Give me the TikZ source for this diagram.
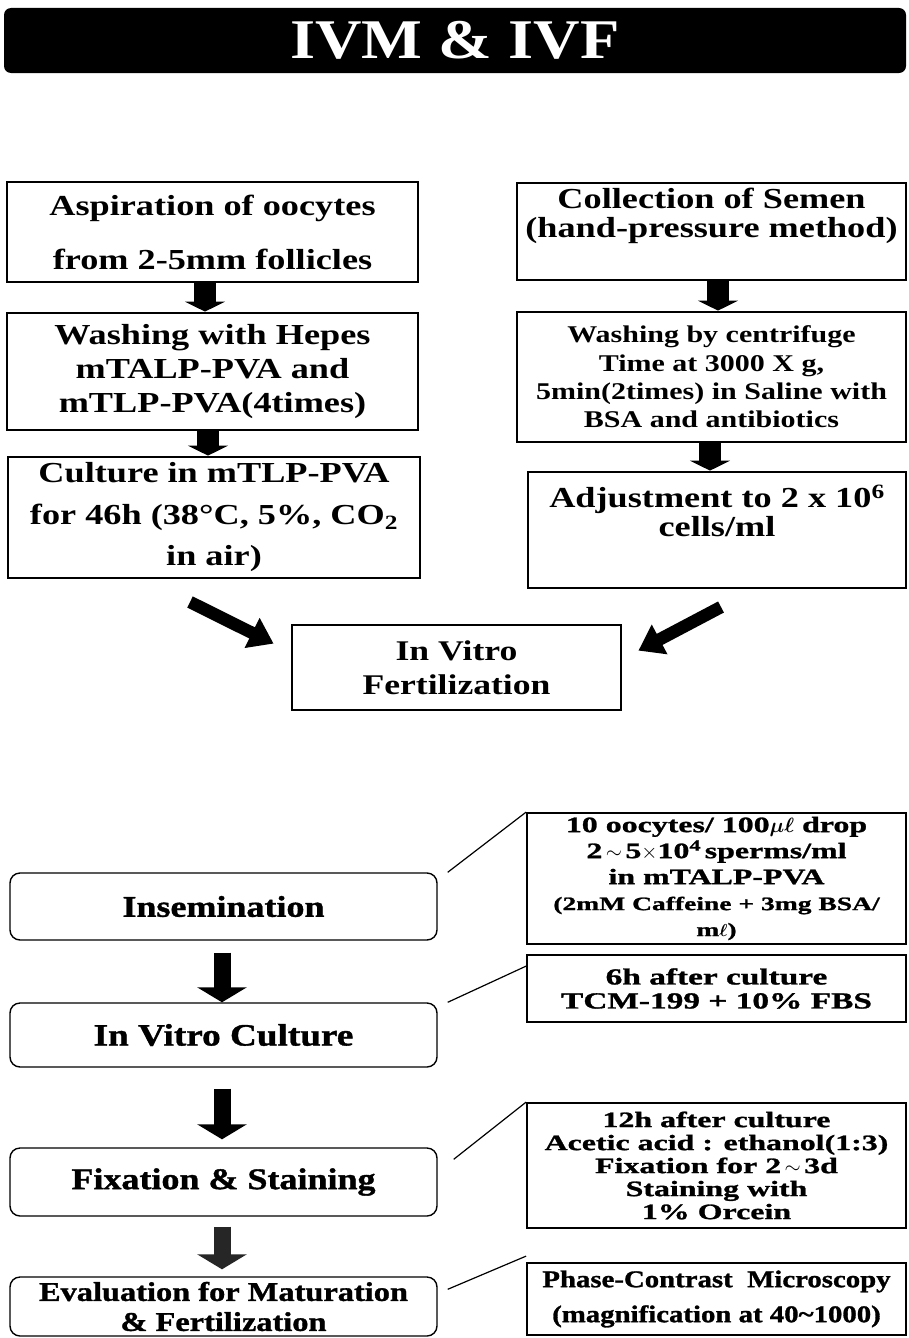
\documentclass[tikz,border=0pt]{standalone}
\usepackage{fontspec}
\setmainfont{Liberation Serif}
\newfontfamily\titlef{Liberation Serif}[FakeStretch=1.15]
\newfontfamily\widef{Liberation Serif}[FakeStretch=1.25]
\newfontfamily\heavyf{Liberation Serif}[FakeStretch=1.2,FakeBold=1.2]
\newfontfamily\xwidef{Liberation Serif}[FakeStretch=1.45,FakeBold=1.2]
\usetikzlibrary{arrows.meta,calc}
\begin{document}
\begin{tikzpicture}[x=1pt,y=-1pt,
  titlebar/.style={fill=black,rounded corners=7pt,inner sep=0pt,text=white,
    font=\titlef\bfseries\fontsize{56}{56}\selectfont},
  topbox/.style={draw,line width=2.8pt,inner sep=0pt,align=center},
  roundbox/.style={draw,line width=1.4pt,rounded corners=10pt,inner sep=0pt,align=center,
    minimum width=427pt},
  notebox/.style={draw,line width=1.8pt,inner sep=0pt,align=center,minimum width=379pt},
  fatdown/.style={line width=22pt,-{Triangle[width=40pt,length=10pt]}},
  fatlow/.style={line width=17pt,-{Triangle[width=49pt,length=15pt]}},
  fatdiag/.style={line width=12.5pt,-{Triangle[width=32pt,length=24pt]}},
  conn/.style={line width=1.2pt}
]
\useasboundingbox (0,0) rectangle (908,1338);
\fill[white] (0,0) rectangle (908,1338);

% title
\node[titlebar,minimum width=902pt,minimum height=65pt] (title) at (455,40.5) {IVM \& IVF};

% left column (oocytes)
\node[topbox,minimum width=411pt,minimum height=100pt,
  font=\widef\bfseries\fontsize{29}{54}\selectfont] (a1) at (212.5,232)
  {Aspiration of oocytes\\from 2-5mm follicles};
\node[topbox,minimum width=411pt,minimum height=117pt,
  font=\widef\bfseries\fontsize{29}{34}\selectfont] (a2) at (212.5,371.5)
  {Washing with Hepes\\mTALP-PVA and\\mTLP-PVA(4times)};
\node[topbox,minimum width=412pt,minimum height=121pt,
  font=\widef\bfseries\fontsize{29}{41.5}\selectfont] (a3) at (214,517.5)
  {Culture in mTLP-PVA\\for 46h (38°C, 5\%, CO\textsubscript{2}\\in air)};

% right column (semen)
\node[topbox,minimum width=389pt,minimum height=97pt,
  font=\widef\bfseries\fontsize{29}{29}\selectfont] (b1) at (711.5,231.5)
  {Collection of Semen\\(hand-pressure method)\\\strut};
\node[topbox,minimum width=389pt,minimum height=130pt,
  font=\widef\bfseries\fontsize{24}{28.3}\selectfont] (b2) at (711.5,377)
  {Washing by centrifuge\\Time at 3000 X g,\\5min(2times) in Saline with\\BSA and antibiotics};
\node[topbox,minimum width=378pt,minimum height=116pt,
  font=\widef\bfseries\fontsize{29}{29}\selectfont] (b3) at (717,530)
  {Adjustment to 2 x 10\textsuperscript{6}\\cells/ml\\\strut};

% IVF
\node[topbox,minimum width=329pt,minimum height=85pt,
  font=\widef\bfseries\fontsize{28.5}{34}\selectfont] (ivf) at (456.5,667.5)
  {In Vitro\\Fertilization};

% top arrows
\draw[fatdown] ([xshift=-7.5pt]a1.south) -- ([xshift=-7.5pt]a2.north);
\draw[fatdown] ([xshift=-4.5pt]a2.south) -- ([xshift=-6pt]a3.north);
\draw[fatdown] ([xshift=6.5pt]b1.south) -- ([xshift=6.5pt]b2.north);
\draw[fatdown] ([xshift=-1.5pt]b2.south) -- ([xshift=-7pt]b3.north);

\coordinate (ltail) at (190,602);
\coordinate (rtail) at (721,607);
\draw[fatdiag] (ltail) -- ($(ivf.north west)+(-17,20)$);
\draw[fatdiag] (rtail) -- ($(ivf.north east)+(16,27)$);

% bottom-left process
\node[roundbox,minimum height=67pt,
  font=\heavyf\bfseries\fontsize{30}{30}\selectfont] (ins) at (223.5,906.5) {Insemination};
\node[roundbox,minimum height=64pt,
  font=\heavyf\bfseries\fontsize{31}{31}\selectfont] (ivc) at (223.5,1035) {In Vitro Culture};
\node[roundbox,minimum height=68pt,
  font=\heavyf\bfseries\fontsize{30}{30}\selectfont] (fix) at (223.5,1182) {Fixation \& Staining};
\node[roundbox,minimum height=59pt,
  font=\heavyf\bfseries\fontsize{27}{30}\selectfont] (eval) at (223.5,1306.5)
  {Evaluation for Maturation\\\& Fertilization};

\draw[fatlow] ([xshift=-1.5pt,yshift=-12pt]ins.south) -- ([xshift=-1.5pt]ivc.north);
\draw[fatlow] ([xshift=-1.5pt,yshift=-21pt]ivc.south) -- ([xshift=-1.5pt,yshift=8pt]fix.north);
\draw[fatlow,black!85] ([xshift=-1.5pt,yshift=-10pt]fix.south) -- ([xshift=-1.5pt,yshift=7pt]eval.north);

% bottom-right notes
\node[notebox,minimum height=131pt,
  font=\xwidef\bfseries\fontsize{22}{26}\selectfont] (r1) at (716.5,878.5)
  {10 oocytes/ 100{\boldmath$\mu\ell$} drop\\
   2$\,\sim\,$5$\times$10\textsuperscript{4}\,sperms/ml\\
   in mTALP-PVA\\
   {\fontsize{19}{20}\selectfont (2mM Caffeine + 3mg BSA/}\\
   {\fontsize{19}{20}\selectfont m{\boldmath$\ell$})}};
\node[notebox,minimum height=67pt,
  font=\xwidef\bfseries\fontsize{23}{24}\selectfont] (r2) at (716.5,988.5)
  {6h after culture\\TCM-199 + 10\% FBS};
\node[notebox,minimum height=125pt,
  font=\xwidef\bfseries\fontsize{22}{23}\selectfont] (r3) at (716.5,1165.5)
  {12h after culture\\Acetic acid : ethanol(1:3)\\Fixation for 2$\,\sim\,$3d\\Staining with\\1\% Orcein};
\node[notebox,minimum height=72pt,
  font=\heavyf\bfseries\fontsize{24}{35}\selectfont] (r4) at (716.5,1299)
  {Phase-Contrast\ \ Microscopy\\(magnification at 40\textasciitilde1000)};

% connectors
\draw[conn] ([xshift=10pt]ins.north east) -- (r1.north west);
\draw[conn] ([xshift=10pt]ivc.north east) -- ($(r2.north west)+(0,12)$);
\draw[conn] ($(fix.north east)+(16,12)$) -- (r3.north west);
\draw[conn] ($(eval.north east)+(10,13)$) -- ($(r4.north west)+(0,-6)$);
\end{tikzpicture}
\end{document}
